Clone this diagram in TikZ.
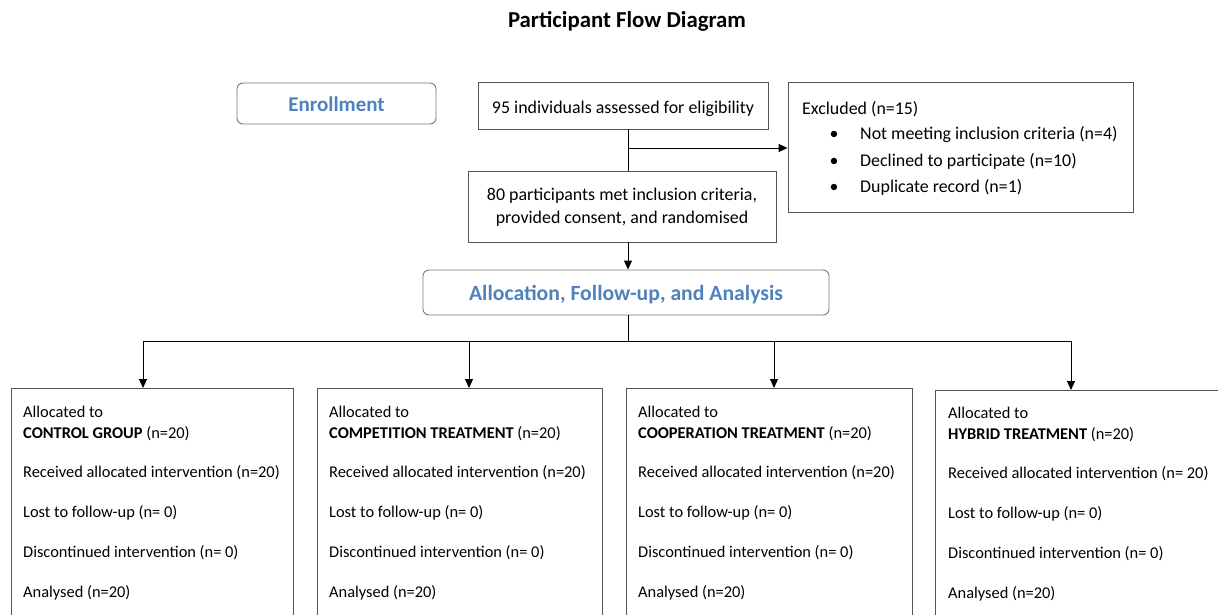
\documentclass[tikz,border=0pt]{standalone}
\usepackage{fontspec}
\setmainfont{Carlito}
\usetikzlibrary{arrows.meta}
\definecolor{hdblue}{RGB}{79,129,189}
\definecolor{boxgray}{RGB}{85,85,85}
\definecolor{rgray}{RGB}{120,120,120}
\begin{document}
\begin{tikzpicture}[x=1pt,y=-1pt,
  box/.style={draw=boxgray, line width=0.9pt, inner sep=0pt},
  rbox/.style={draw=rgray, rounded corners=6pt, line width=0.9pt, inner sep=0pt},
  txt/.style={font=\fontsize{17.9}{23}\selectfont, inner sep=0pt},
  btxt/.style={font=\fontsize{16.4}{20}\selectfont, inner sep=0pt},
  hd/.style={font=\fontsize{21.7}{26}\selectfont\bfseries, text=hdblue, inner sep=0pt},
  arr/.style={-{Triangle[width=8pt,length=9pt]}, line width=0.9pt},
  ln/.style={line width=0.9pt}]
\useasboundingbox (0,0) rectangle (1218,615);
\clip (0,0) rectangle (1218,615);

\node[font=\fontsize{22.8}{26}\selectfont\bfseries, inner sep=0pt, anchor=base] (title) at (627,28) {Participant Flow Diagram};

\node[rbox, minimum width=199pt, minimum height=41pt] (enroll) at (336.5,103.5) {};
\node[hd, font=\fontsize{21}{25}\selectfont\bfseries, anchor=base] (enrollT) at (336.5,112) {Enrollment};

\node[box, minimum width=290pt, minimum height=47pt] (elig) at (623,105.5) {};
\node[txt, anchor=base] (eligT) at (623,114) {95 individuals assessed for eligibility};

\node[box, minimum width=345pt, minimum height=130pt] (excl) at (960.5,147) {};
\node[txt, anchor=base west] (ex0) at (802,114.5) {Excluded (n=15)};
\node[txt, anchor=base] (bu1) at (834,140) {•};
\node[txt, anchor=base] (bu2) at (834,166.5) {•};
\node[txt, anchor=base] (bu3) at (834,192.5) {•};
\node[txt, anchor=base west] (ex1) at (860,140) {Not meeting inclusion criteria (n=4)};
\node[txt, anchor=base west] (ex2) at (860,166.5) {Declined to participate (n=10)};
\node[txt, anchor=base west] (ex3) at (860,192.5) {Duplicate record (n=1)};

\node[box, minimum width=308pt, minimum height=71pt] (incl) at (622,206.5) {};
\node[txt, anchor=base] (inclT1) at (622,200.5) {80 participants met inclusion criteria,};
\node[txt, anchor=base] (inclT2) at (622,223.5) {provided consent, and randomised};

\node[rbox, minimum width=406pt, minimum height=45pt] (alloc) at (626,292.5) {};
\node[hd, anchor=base] (allocT) at (626,300) {Allocation, Follow-up, and Analysis};

\coordinate (sp) at (628,148);
\coordinate (br) at (628,341);
\draw[ln] (elig.south -| sp) -- (incl.north -| sp);
\draw[arr] (sp) -- (sp -| excl.west);
\draw[arr] (incl.south -| sp) -- (alloc.north -| sp);
\draw[ln] (alloc.south -| sp) -- (br);

\node[box, anchor=north west, minimum width=282pt, minimum height=260pt] (b1) at (11,388) {};
\node[box, anchor=north west, minimum width=285pt, minimum height=260pt] (b2) at (317,388) {};
\node[box, anchor=north west, minimum width=286pt, minimum height=260pt] (b3) at (626,388) {};
\node[box, anchor=north west, minimum width=290pt, minimum height=260pt] (b4) at (935,390) {};

\coordinate (c1) at (143,341);
\coordinate (c2) at (469,341);
\coordinate (c3) at (774,341);
\coordinate (c4) at (1071,341);
\draw[ln] (c1) -- (c4);
\draw[arr] (c1) -- (c1 |- b1.north);
\draw[arr] (c2) -- (c2 |- b2.north);
\draw[arr] (c3) -- (c3 |- b3.north);
\draw[arr] (c4) -- (c4 |- b4.north);

\foreach \i/\tx/\ty/\grp/\rn in {1/23/417/{CONTROL GROUP}/{n=20}, 2/329/417/{COMPETITION TREATMENT}/{n=20}, 3/638/417/{COOPERATION TREATMENT}/{n=20}, 4/948/418/{HYBRID TREATMENT}/{n=\ 20}}{
  \node[btxt, anchor=base west] (l\i a) at (\tx,\ty) {Allocated to};
  \node[btxt, anchor=base west] (l\i b) at (\tx,\ty+21) {\textbf{\grp} (n=20)};
  \node[btxt, anchor=base west] (l\i c) at (\tx,\ty+60) {Received allocated intervention (\rn)};
  \node[btxt, anchor=base west] (l\i d) at (\tx,\ty+100) {Lost to follow-up (n=\ 0)};
  \node[btxt, anchor=base west] (l\i e) at (\tx,\ty+140) {Discontinued intervention (n=\ 0)};
  \node[btxt, anchor=base west] (l\i f) at (\tx,\ty+180) {Analysed (n=20)};
}
\end{tikzpicture}
\end{document}
